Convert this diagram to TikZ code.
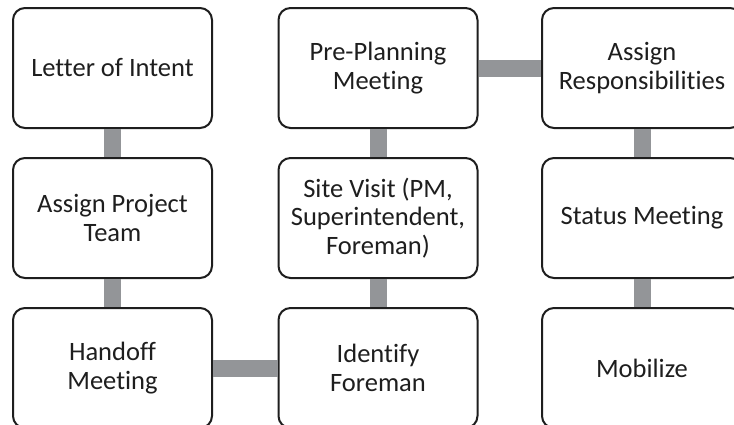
\documentclass[tikz,border=0pt]{standalone}
\usepackage{fontspec}
\setmainfont{Carlito}[Ligatures=NoCommon]
\definecolor{bargray}{HTML}{939598}
\definecolor{inkgray}{HTML}{1E1E1E}
\begin{document}
\begin{tikzpicture}[x=1pt,y=-1pt,
  stepbox/.style={draw=inkgray, line width=2pt, fill=white, rounded corners=12pt,
    minimum width=199pt, minimum height=120pt, inner sep=0pt,
    align=center, text=inkgray,
    font=\fontsize{26.5}{28.5}\selectfont},
  bar/.style={draw=bargray, line width=17pt}]
  \useasboundingbox (0,0) rectangle (734,424);
  \clip (0,0) rectangle (734,424);
  % first column
  \node[stepbox] (loi)  at (112.5,68)  {Letter of Intent};
  \node[stepbox] (team) at (112.5,218) {Assign Project\\Team};
  \node[stepbox] (hand) at (112.5,368) {Handoff\\Meeting};
  % second column
  \node[stepbox] (pre)  at (378,68)  {Pre-Planning\\Meeting};
  \node[stepbox] (site) at (378,218) {Site Visit (PM,\\Superintendent,\\Foreman)};
  \node[stepbox] (fore) at (378,368) {Identify\\Foreman};
  % third column
  \node[stepbox, minimum width=200pt] (resp) at (642,68)  {Assign\\Responsibilities};
  \node[stepbox, minimum width=200pt] (stat) at (642,218) {Status Meeting};
  \node[stepbox, minimum width=200pt] (mob)  at (642,368) {Mobilize};
  % connectors
  \draw[bar] (loi.south) -- (team.north);
  \draw[bar] (team.south) -- (hand.north);
  \draw[bar] (hand.east) -- (fore.west);
  \draw[bar] (fore.north) -- (site.south);
  \draw[bar] (site.north) -- (pre.south);
  \draw[bar] (pre.east) -- (resp.west);
  \draw[bar] (resp.south) -- (stat.north);
  \draw[bar] (stat.south) -- (mob.north);
\end{tikzpicture}
\end{document}
